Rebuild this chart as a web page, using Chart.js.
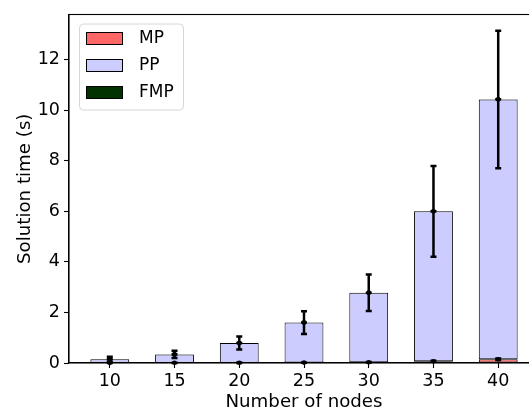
<!DOCTYPE html>
<html>
<head>
<meta charset="utf-8">
<script src="https://cdn.jsdelivr.net/npm/chart.js@4"></script>
<style>
  html, body { margin: 0; padding: 0; overflow: hidden; background: #fff; }
  #wrap { width: 529px; height: 411px; overflow: hidden; }
</style>
</head>
<body>
<div id="wrap"><canvas id="chart" width="560" height="411"></canvas></div>
<script>
// number of nodes on the x axis
const nodes = [10, 15, 20, 25, 30, 35, 40];

// mean solution time per part (s) and its error
const mpTime  = [0.005, 0.008, 0.01, 0.015, 0.03, 0.07, 0.15];
const mpErr   = [0.003, 0.004, 0.006, 0.008, 0.01, 0.02, 0.03];
const ppTime  = [0.145, 0.332, 0.78, 1.585, 2.75, 5.93, 10.28];
const ppErr   = [0.1, 0.14, 0.26, 0.45, 0.72, 1.8, 2.72];
const fmpTime = [0.002, 0.002, 0.002, 0.002, 0.003, 0.003, 0.004];
const fmpErr  = [0.001, 0.001, 0.001, 0.001, 0.001, 0.001, 0.001];

const yTicks = [0, 2, 4, 6, 8, 10, 12];

Chart.defaults.font.family = "'DejaVu Sans', sans-serif";
Chart.defaults.font.size = 17.5;
Chart.defaults.color = '#000';

const toPoints = arr => arr.map((v, i) => ({ x: nodes[i], y: v }));

// error bars on top of each stacked part
const errorBars = {
  id: 'errorBars',
  afterDatasetsDraw(chart) {
    const ctx = chart.ctx;
    const xs = chart.scales.x, ys = chart.scales.y;
    const errs = [mpErr, ppErr, fmpErr];
    const base = nodes.map(() => 0);
    ctx.save();
    ctx.strokeStyle = '#000';
    ctx.fillStyle = '#000';
    ctx.lineWidth = 2.5;
    chart.data.datasets.forEach((ds, i) => {
      ds.data.forEach((pt, j) => {
        base[j] += pt.y;
        const px = xs.getPixelForValue(pt.x);
        const top = ys.getPixelForValue(base[j] + errs[i][j]);
        const bot = ys.getPixelForValue(base[j] - errs[i][j]);
        const mid = ys.getPixelForValue(base[j]);
        ctx.beginPath();
        ctx.moveTo(px, top); ctx.lineTo(px, bot);
        ctx.moveTo(px - 3, top); ctx.lineTo(px + 3, top);
        ctx.moveTo(px - 3, bot); ctx.lineTo(px + 3, bot);
        ctx.stroke();
        ctx.beginPath();
        ctx.arc(px, mid, 2.3, 0, Math.PI * 2);
        ctx.fill();
      });
    });
    ctx.restore();
  }
};

// box around the plot + legend in the upper left
const frameAndLegend = {
  id: 'frameAndLegend',
  afterDraw(chart) {
    const ctx = chart.ctx;
    const a = chart.chartArea;
    ctx.save();
    ctx.strokeStyle = '#000';
    ctx.lineWidth = 1.1;
    ctx.strokeRect(a.left, a.top, a.right - a.left, a.bottom - a.top);

    const lx = a.left + 10, ly = a.top + 9, lw = 104, lh = 86;
    ctx.fillStyle = 'rgba(255,255,255,0.8)';
    ctx.strokeStyle = '#d6d6d6';
    ctx.lineWidth = 1;
    ctx.beginPath();
    ctx.roundRect(lx + 0.5, ly + 0.5, lw, lh, 4);
    ctx.fill();
    ctx.stroke();

    ctx.font = "17px 'DejaVu Sans', sans-serif";
    ctx.textBaseline = 'middle';
    ctx.textAlign = 'left';
    chart.data.datasets.forEach((ds, i) => {
      const cy = ly + 15 + i * 27;
      ctx.fillStyle = ds.backgroundColor;
      ctx.fillRect(lx + 7, cy - 6.5, 37, 13);
      ctx.strokeStyle = '#000';
      ctx.lineWidth = 1;
      ctx.strokeRect(lx + 7.5, cy - 6, 36, 12);
      ctx.fillStyle = '#000';
      ctx.fillText(ds.label, lx + 60, cy);
    });
    ctx.restore();
  }
};

const barStyle = { borderColor: '#000', borderWidth: 1, borderSkipped: false,
                   barPercentage: 1.0, categoryPercentage: 0.6 };

new Chart(document.getElementById('chart'), {
  type: 'bar',
  data: {
    datasets: [
      Object.assign({ label: 'MP', data: toPoints(mpTime), backgroundColor: '#ff6666' }, barStyle),
      Object.assign({ label: 'PP', data: toPoints(ppTime), backgroundColor: '#ccccff' }, barStyle),
      Object.assign({ label: 'FMP', data: toPoints(fmpTime), backgroundColor: '#003300' }, barStyle)
    ]
  },
  options: {
    responsive: false,
    animation: false,
    layout: { padding: { top: 14, right: 21, left: 0, bottom: 0 } },
    plugins: { legend: { display: false }, tooltip: { enabled: false } },
    scales: {
      x: {
        type: 'linear',
        stacked: true,
        offset: false,
        min: 6.85,
        max: 43.15,
        afterBuildTicks: s => { s.ticks = nodes.map(v => ({ value: v })); },
        afterFit: s => { s.height = 48; },
        grid: { display: true, offset: false, drawOnChartArea: false, drawTicks: true,
                tickLength: 5, tickColor: '#000', tickWidth: 1.1 },
        border: { display: true, color: '#000', width: 1.1 },
        ticks: { padding: 3, maxRotation: 0, autoSkip: false },
        title: { display: true, text: 'Number of nodes',
                 font: { size: 18.2, lineHeight: 1 }, padding: { top: 0, bottom: 0 } }
      },
      y: {
        stacked: true,
        min: 0,
        max: 13.79,
        afterBuildTicks: s => { s.ticks = yTicks.map(v => ({ value: v })); },
        afterFit: s => { s.width = 69; },
        grid: { display: true, drawOnChartArea: false, drawTicks: true,
                tickLength: 5, tickColor: '#000', tickWidth: 1.1 },
        border: { display: true, color: '#000', width: 1.1 },
        ticks: { padding: 4 },
        title: { display: true, text: 'Solution time (s)',
                 font: { size: 18.2, lineHeight: 1 }, padding: { top: 16, bottom: 0 } }
      }
    }
  },
  plugins: [errorBars, frameAndLegend]
});
</script>
</body>
</html>
